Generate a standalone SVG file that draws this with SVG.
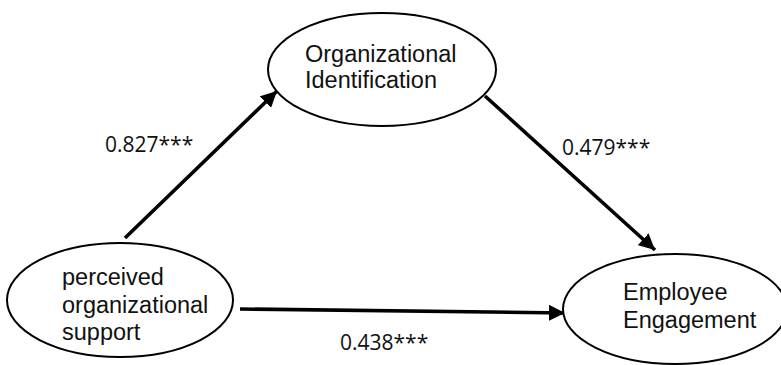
<svg xmlns="http://www.w3.org/2000/svg" width="781" height="365" viewBox="0 0 781 365">
  <style>
    .node ellipse { fill: #ffffff; stroke: #000000; stroke-width: 2; }
    .node text { font-family: "Liberation Sans", Arial, sans-serif; font-size: 23.5px; fill: #111111; }
    .edge { stroke: #000000; stroke-width: 3.6; fill: none; marker-end: url(#arrow); }
    .coef { font-family: "Open Sans", "Noto Sans", sans-serif; font-size: 21px; fill: #111111; }
  </style>
  <defs>
    <marker id="arrow" markerUnits="userSpaceOnUse" markerWidth="18" markerHeight="16" refX="16" refY="8" orient="auto">
      <path d="M0,0 L16,8 L0,16 z" fill="#000000"/>
    </marker>
  </defs>

  <rect width="781" height="365" fill="#ffffff"/>

  <g id="connectors">
    <line class="edge" x1="125" y1="238" x2="277" y2="91"/>
    <line class="edge" x1="485" y1="96" x2="655" y2="250"/>
    <line class="edge" x1="240" y1="309" x2="565" y2="313"/>
    <text class="coef" x="105" y="152">0.827***</text>
    <text class="coef" x="562" y="155">0.479***</text>
    <text class="coef" x="340" y="350">0.438***</text>
  </g>

  <g id="node-oi" class="node">
    <ellipse cx="382" cy="69.5" rx="114" ry="56.5"/>
    <text x="305" y="62">Organizational</text>
    <text x="305" y="88">Identification</text>
  </g>

  <g id="node-pos" class="node">
    <ellipse cx="120" cy="300" rx="113" ry="57"/>
    <text x="62" y="285">perceived</text>
    <text x="62" y="313">organizational</text>
    <text x="62" y="340">support</text>
  </g>

  <g id="node-ee" class="node">
    <ellipse cx="675" cy="309" rx="112" ry="55"/>
    <text x="623" y="300">Employee</text>
    <text x="623" y="328">Engagement</text>
  </g>
</svg>
